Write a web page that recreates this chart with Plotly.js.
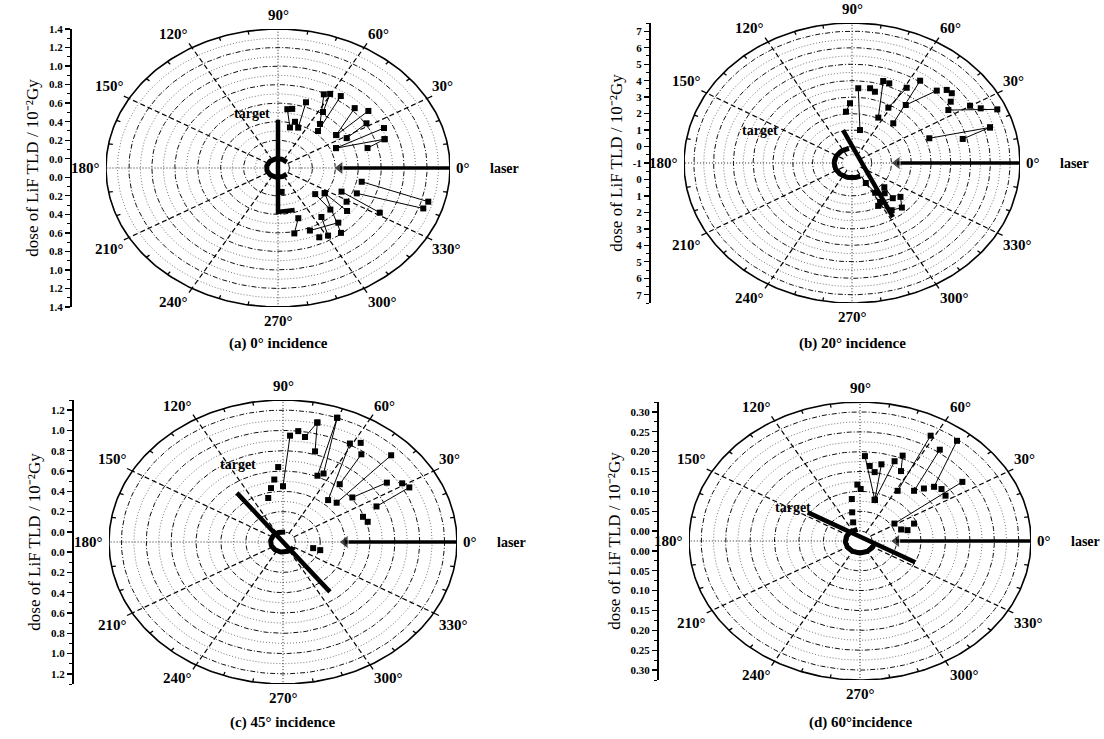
<!DOCTYPE html>
<html>
<head>
<meta charset="utf-8">
<script src="https://cdn.plot.ly/plotly-3.0.1.min.js"></script>
<style>html,body{margin:0;padding:0;background:#fff;}#chart{width:1104px;height:739px;}</style>
</head>
<body>
<div id="chart"></div>
<script>
// ================= DATA (angle in degrees, dose in 10^-2 Gy) =================
const angleTickValues = [0,30,60,90,120,150,180,210,240,270,300,330];

// ---- (a) 0° incidence ----
const a_pairAngle = [82.7,76.6,null, 71,68,null, 63.3,52.4,null, 60.4,57,null, 54.8,48.8,null, 44,35,null, 38,35,null, 32,28.3,null, 25,23,null, 18.5,23,null, 15.4,18.5,null,
                     348.5,344.5,null, 338.3,341,null, 335.3,331.5,null, 326.3,322.4,null, 319,315.5,null, 326.3,308.1,null, 288.1,281.4,null, 305.6,300.9,null, 311.7,292.4];
const a_pairDose  = [0.54,0.35,null, 0.65,0.37,null, 0.79,0.50,null, 0.82,0.62,null, 0.85,0.43,null, 0.83,0.52,null, 0.90,0.52,null, 0.81,0.58,null, 0.92,0.45,null, 0.88,0.45,null, 0.71,0.88,null,
                     0.645,1.26,null, 0.64,1.24,null, 0.51,0.91,null, 0.39,0.66,null, 0.33,0.54,null, 0.39,0.79,null, 0.47,0.62,null, 0.55,0.75,null, 0.69,0.63];
const a_singleAngle = [79,73.4,328.7,295.7,277];
const a_singleDose  = [0.55,0.42,0.60,0.73,0.16];
const a_targetAngle = [90,270,287.7];
const a_targetDose  = [0.42,0.375,0.377];
const a_holderAngle = [40,320];
const a_holderDose  = 0;
const a_laserDose   = [0.44,1.4];
const a_tickValues  = [0,0.2,0.4,0.6,0.8,1.0,1.2,1.4];
const a_minorValues = [0.1,0.3,0.5,0.7,0.9,1.1,1.3];

// ---- (b) 20° incidence ----
const b_pairAngle = [78.6,86,null, 95.6,91.6,null, 78.6,75,null, 64.2,72.4,null, 61.3,58.8,null, 49.1,55.4,null, 52.3,45.7,null, 33.4,23.9,null, 21,17.2,null, 14.6,17.2,null,
                     300,303,312,318,314,301,297,305,313,320];
const b_pairDose  = [1.04,3.55,null, 2.13,2.63,null, 3.63,3.48,null, 2.06,4.22,null, 2.83,4.34,null, 2.19,5.07,null, 3.45,5.14,null, 4.84,7.04,null, 3.19,6.31,null, 4.79,6.31,null,
                     0.4,1.16,1.47,1.2,1.97,1.76,1.92,2.5,2.7,2.2];
const b_singleAngle = [68.7,42.8,40,36.7,30.2,27];
const b_singleDose  = [4.19,5.53,5.59,5.23,5.91,6.31];
const b_targetAngle = [102.8,302.3];
const b_targetDose  = [1.05,2.88];
const b_holderAngle = [100,300];
const b_holderDose  = -0.1;
const b_laserDose   = [1.28,7.5];
const b_tickValues  = [-1,0,1,2,3,4,5,6,7];
const b_minorValues = [-0.5,0.5,1.5,2.5,3.5,4.5,5.5,6.5,7.5];

// ---- (c) 45° incidence ----
const c_pairAngle = [86.9,90,null, 80.3,76.8,null, 76.8,73.9,null, 70.4,67,null, 70.4,64.2,null, 61,48.7,null, 53.9,51.3,null, 44.5,41.9,null, 35,38.2,null, 27.9,25];
const c_pairDose  = [0.95,0.45,null, 0.95,1.11,null, 1.11,0.83,null, 1.2,0.61,null, 1.2,0.65,null, 1.01,0.45,null, 0.97,0.63,null, 1.12,0.48,null, 0.92,0.61,null, 1.05,0.73];
const c_singleAngle = [83.6,57.4,31.1,21.1,16.3,93,96.5,100.3,105.3,346,345];
const c_singleDose  = [1.0,1.06,1.02,0.59,0.61,0.64,0.52,0.44,0.35,0.15,0.21];
const c_targetAngle = [127.5,307.5];
const c_targetDose  = [0.51,0.52];
const c_holderAngle = [80,330];
const c_holderDose  = 0;
const c_laserDose   = [0.40,1.3];
const c_tickValues  = [0,0.2,0.4,0.6,0.8,1.0,1.2];
const c_minorValues = [0.1,0.3,0.5,0.7,0.9,1.1,1.3];

// ---- (d) 60° incidence ----
const d_pairAngle = [87.3,73.7,null, 77.2,73.7,null, 61.4,58.6,null, 54.6,48.8,null, 51.8,42,null, 35.4,31.9,null, 67.9,64.5,null, 70.6,73.7];
const d_pairDose  = [0.189,0.083,null, 0.173,0.083,null, 0.277,0.123,null, 0.257,0.143,null, 0.296,0.179,null, 0.232,0.058,null, 0.207,0.170,null, 0.188,0.083];
const d_singleAngle = [84,80.2,45.3,38.1,33.1,92.2,89.4,99,19,21.6,15.7,102.5,106.6];
const d_singleDose  = [0.165,0.151,0.161,0.187,0.184,0.117,0.106,0.082,0.064,0.094,0.076,0.049,0.024];
const d_targetAngle = [146,334.6];
const d_targetDose  = [0.104,0.10];
const d_holderAngle = [100,340];
const d_holderDose  = 0.005;
const d_laserDose   = [0.05,0.325];
const d_tickValues  = [0,0.05,0.10,0.15,0.20,0.25,0.30];
const d_minorValues = [0.025,0.075,0.125,0.175,0.225,0.275,0.325];

// ================= GEOMETRY / STYLE =================
const W = 1104, H = 739;
const FONT = 'Liberation Serif, Times New Roman, serif';
const panels = [
  {s:'',  cx:278, cy:168, a:172, b:139, axisX:70,  rmin:-0.1, rmax:1.4,  step:0.1,  digits:1, cap:'(a) 0° incidence',  capY:343,
   pa:a_pairAngle, pd:a_pairDose, sa:a_singleAngle, sd:a_singleDose, ta:a_targetAngle, td:a_targetDose, ha:a_holderAngle, hd:a_holderDose, ld:a_laserDose, tv:a_tickValues, mv:a_minorValues, tgt:[272,113]},
  {s:'2', cx:852, cy:163, a:168, b:140, axisX:649, rmin:-1,   rmax:7.5,  step:0.5,  digits:0, cap:'(b) 20° incidence', capY:343,
   pa:b_pairAngle, pd:b_pairDose, sa:b_singleAngle, sd:b_singleDose, ta:b_targetAngle, td:b_targetDose, ha:b_holderAngle, hd:b_holderDose, ld:b_laserDose, tv:b_tickValues, mv:b_minorValues, tgt:[780,130]},
  {s:'3', cx:283, cy:542, a:174, b:142, axisX:72,  rmin:-0.1, rmax:1.3,  step:0.1,  digits:1, cap:'(c) 45° incidence', capY:722,
   pa:c_pairAngle, pd:c_pairDose, sa:c_singleAngle, sd:c_singleDose, ta:c_targetAngle, td:c_targetDose, ha:c_holderAngle, hd:c_holderDose, ld:c_laserDose, tv:c_tickValues, mv:c_minorValues, tgt:[258,464]},
  {s:'4', cx:860, cy:541, a:171, b:139, axisX:657, rmin:-0.025, rmax:0.325, step:0.025, digits:2, cap:'(d) 60°incidence', capY:722,
   pa:d_pairAngle, pd:d_pairDose, sa:d_singleAngle, sd:d_singleDose, ta:d_targetAngle, td:d_targetDose, ha:d_holderAngle, hd:d_holderDose, ld:d_laserDose, tv:d_tickValues, mv:d_minorValues, tgt:[813,507]}
];

const D2R = Math.PI/180;
function polarXY(angles, doses, rmin){
  const x=[], y=[];
  for(let i=0;i<angles.length;i++){
    if(angles[i]===null || doses[i]===null){x.push(null);y.push(null);continue;}
    const rho = doses[i]-rmin, t = angles[i]*D2R;
    x.push(rho*Math.cos(t)); y.push(rho*Math.sin(t));
  }
  return {x,y};
}
function arc(obj, rho, t0, t1, dt){
  for(let t=t0; t<=t1+1e-9; t+=dt){ obj.x.push(rho*Math.cos(t*D2R)); obj.y.push(rho*Math.sin(t*D2R)); }
  obj.x.push(null); obj.y.push(null);
}
function seg(obj, r0, r1, t){
  obj.x.push(r0*Math.cos(t*D2R), r1*Math.cos(t*D2R), null);
  obj.y.push(r0*Math.sin(t*D2R), r1*Math.sin(t*D2R), null);
}

const traces = [], annotations = [], layout = {
  width:W, height:H, margin:{l:0,r:0,t:0,b:0}, paper_bgcolor:'#fff', plot_bgcolor:'rgba(0,0,0,0)',
  showlegend:false, annotations:annotations
};

panels.forEach(p=>{
  const R = p.rmax - p.rmin;
  const xa = 'x'+p.s, ya = 'y'+p.s;
  const n = Math.round(R/p.step);
  const major={x:[],y:[]}, minor={x:[],y:[]}, outer={x:[],y:[]};
  for(let k=1;k<n;k++){
    const rho=k*p.step, r=rho+p.rmin, q=r/(2*p.step);
    arc(Math.abs(q-Math.round(q))<1e-6 ? major : minor, rho, 0, 360, 2);
  }
  arc(outer, R, 0, 360, 1);
  const spD={x:[],y:[]}, spO={x:[],y:[]}, tk={x:[],y:[]};
  for(let t=0;t<360;t+=30){
    seg(t%90===0 ? spO : spD, p.step, R, t);
    seg(tk, R, R*1.035, t);
  }
  for(let t=0;t<360;t+=10){ if(t%30!==0) seg(tk, R*0.975, R, t); }
  const base = {xaxis:xa, yaxis:ya, mode:'lines', hoverinfo:'skip', showlegend:false};
  traces.push(Object.assign({}, base, minor, {line:{color:'#555', width:0.8, dash:'1px,2px'}}));
  traces.push(Object.assign({}, base, major, {line:{color:'#111', width:1, dash:'5px,2px,1px,2px'}}));
  traces.push(Object.assign({}, base, spO, {line:{color:'#222', width:1, dash:'1px,2px'}}));
  traces.push(Object.assign({}, base, spD, {line:{color:'#000', width:1.2, dash:'5px,3px'}}));
  traces.push(Object.assign({}, base, outer, {line:{color:'#000', width:1.6}}));
  traces.push(Object.assign({}, base, tk, {line:{color:'#000', width:1.3}}));

  // holder (C shape at the hole) and target
  const hold={x:[],y:[]};
  arc(hold, p.hd-p.rmin, p.ha[0], p.ha[1], 3);
  traces.push(Object.assign({}, base, hold, {line:{color:'#000', width:5}}));
  const tg = polarXY(p.ta, p.td, p.rmin);
  traces.push(Object.assign({}, base, tg, {line:{color:'#000', width:4.5}}));

  // laser beam (arrow pointing to the centre)
  const lz = polarXY([0,0], p.ld, p.rmin);
  traces.push(Object.assign({}, base, lz, {mode:'lines+markers', line:{color:'#000', width:3.5},
    marker:{symbol:['triangle-left','circle'], size:[12,0], color:'#000'}}));

  // measured doses
  const pr = polarXY(p.pa, p.pd, p.rmin);
  traces.push(Object.assign({}, base, pr, {mode:'lines+markers', line:{color:'#000', width:1}, marker:{symbol:'square', size:6, color:'#000'}}));
  const sg = polarXY(p.sa, p.sd, p.rmin);
  traces.push(Object.assign({}, base, sg, {mode:'markers', marker:{symbol:'square', size:6, color:'#000'}}));

  // angle labels
  angleTickValues.forEach(t=>{
    const c=Math.cos(t*D2R), s=Math.sin(t*D2R);
    annotations.push({xref:xa, yref:ya, x:R*c, y:R*s, text:t+'°', showarrow:false,
      xanchor: c>0.1?'left':(c<-0.1?'right':'center'),
      yanchor: s>0.3?'bottom':(s<-0.3?'top':'middle'),
      xshift:4*c, yshift:4*s,
      font:{family:FONT, size:15, color:'#000', weight:700}});
  });
  annotations.push({xref:'paper', yref:'paper', x:(p.cx+p.a+38)/W, y:1-p.cy/H, text:'laser', showarrow:false,
    xanchor:'left', yanchor:'middle', font:{family:FONT, size:14, color:'#000', weight:700}});
  annotations.push({xref:'paper', yref:'paper', x:p.tgt[0]/W, y:1-p.tgt[1]/H, text:'target', showarrow:false,
    xanchor:'right', yanchor:'middle', font:{family:FONT, size:14, color:'#000', weight:700}});
  annotations.push({xref:'paper', yref:'paper', x:p.cx/W, y:1-p.capY/H, text:p.cap, showarrow:false,
    xanchor:'center', yanchor:'middle', font:{family:FONT, size:15, color:'#000', weight:700}});

  // radial dose axis (left)
  const tv=[], tt=[], mv=[];
  p.tv.forEach(v=>{
    const rho=v-p.rmin, lab=v.toFixed(p.digits);
    if(rho<1e-9){tv.push(0); tt.push(lab);} else {tv.push(rho,-rho); tt.push(lab,lab);}
  });
  p.mv.forEach(v=>{ const rho=v-p.rmin; if(rho>1e-9) mv.push(rho,-rho); });
  const xk = 'xaxis'+p.s, yk = 'yaxis'+p.s;
  layout[xk] = {domain:[(p.cx-p.a)/W,(p.cx+p.a)/W], range:[-R,R], visible:false, fixedrange:true, anchor:ya};
  layout[yk] = {domain:[1-(p.cy+p.b)/H, 1-(p.cy-p.b)/H], range:[-R,R], anchor:'free', position:p.axisX/W,
    showline:true, linecolor:'#000', linewidth:1.5, ticks:'outside', ticklen:5, tickwidth:1.3, tickcolor:'#000',
    tickmode:'array', tickvals:tv, ticktext:tt,
    minor:{tickmode:'array', tickvals:mv, ticks:'outside', ticklen:3, tickwidth:1, tickcolor:'#000', showgrid:false},
    tickfont:{family:FONT, size:11, color:'#000', weight:700},
    showgrid:false, zeroline:false, fixedrange:true,
    title:{text:'dose of LiF TLD / 10⁻²Gy', font:{family:FONT, size:17, color:'#000'}, standoff:4}};
});

Plotly.newPlot('chart', traces, layout, {staticPlot:true, displayModeBar:false});
</script>
</body>
</html>
